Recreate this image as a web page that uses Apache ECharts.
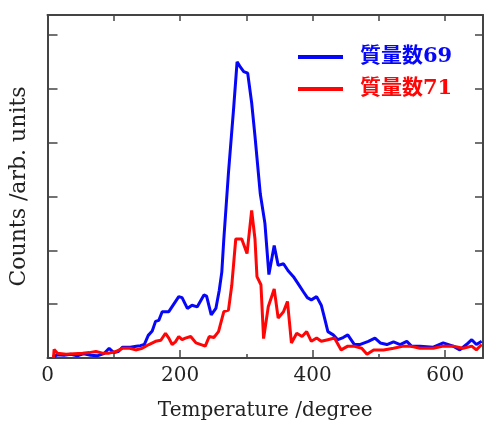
<!DOCTYPE html>
<html><head><meta charset="utf-8">
<script src="https://cdn.jsdelivr.net/npm/echarts@6/dist/echarts.min.js"></script>
<style>html,body{margin:0;padding:0;background:#fff}#c{width:486px;height:426px}</style>
</head><body><div id="c"></div>
<script>
const seriesNames = ['質量数69', '質量数71'];
const blueX = [8,15,25,35,45,55,65,75,85,93,100,107,113,125,134,140,146,152,158,163,168,173,183,191,198,203,211,218,226,236,240,247,254,259,263,266,273,281,286,290,296,302,308,313,321,328,334,342,348,356,363,371,378,386,392,398,406,413,418,423,431,438,446,453,463,471,484,494,502,512,522,532,542,549,562,582,597,612,622,632,640,647,655];
const blueY = [0.02,0.06,0.05,0.07,0.04,0.08,0.05,0.04,0.08,0.18,0.1,0.12,0.2,0.2,0.22,0.23,0.25,0.42,0.5,0.68,0.7,0.86,0.86,1.01,1.14,1.12,0.92,0.98,0.95,1.17,1.15,0.80,0.92,1.25,1.6,2.21,3.44,4.67,5.5,5.42,5.32,5.29,4.74,4.12,3.05,2.5,1.55,2.09,1.72,1.75,1.62,1.51,1.38,1.23,1.12,1.08,1.14,0.98,0.74,0.49,0.43,0.34,0.38,0.43,0.25,0.25,0.31,0.37,0.28,0.25,0.30,0.25,0.31,0.22,0.22,0.2,0.28,0.22,0.15,0.25,0.34,0.25,0.31];
const redX = [9,10,15,28,40,53,63,73,83,93,103,113,124,133,143,153,163,171,178,183,188,193,198,203,208,216,224,238,244,251,258,266,273,278,284,293,301,308,313,316,322,326,333,342,348,356,362,368,376,384,391,398,406,413,423,433,443,453,462,474,482,492,507,522,537,547,562,582,597,612,627,640,647,655];
const redY = [0,0.16,0.09,0.07,0.08,0.09,0.1,0.12,0.09,0.09,0.12,0.18,0.18,0.15,0.18,0.25,0.31,0.33,0.46,0.37,0.25,0.3,0.40,0.34,0.37,0.40,0.28,0.22,0.40,0.38,0.49,0.86,0.89,1.35,2.21,2.21,1.94,2.74,2.21,1.51,1.36,0.36,0.95,1.28,0.74,0.86,1.05,0.28,0.46,0.40,0.49,0.31,0.37,0.31,0.34,0.37,0.15,0.22,0.22,0.18,0.07,0.15,0.15,0.18,0.22,0.22,0.18,0.18,0.22,0.22,0.18,0.22,0.15,0.25];
const xTickLabels = [0, 200, 400, 600];

const BLUE = '#0606f8', RED = '#ff0606';
const FONT = 'DejaVu Serif';
const axisLine = {show: true, onZero: false, lineStyle: {color: '#444', width: 2}};
const tickStyle = {color: '#444', width: 1.5};
const chart = echarts.init(document.getElementById('c'));
chart.setOption({
  animation: false,
  grid: {left: 47.5, top: 15, right: 1.5, bottom: 66},
  legend: {
    orient: 'vertical', left: 298, top: 46, padding: 0, itemWidth: 45, itemHeight: 4, itemGap: 10,
    icon: 'rect',
    textStyle: {fontFamily: FONT + ', "Noto Sans CJK JP"', fontWeight: 'bold', fontSize: 21, lineHeight: 22, padding: [0, 0, 0, 12]},
    data: [
      {name: seriesNames[0], textStyle: {color: BLUE}},
      {name: seriesNames[1], textStyle: {color: RED}}
    ]
  },
  xAxis: [{
    type: 'value', min: 0, max: 657, interval: 200, position: 'bottom',
    name: 'Temperature /degree', nameLocation: 'middle', nameGap: 43,
    nameTextStyle: {fontFamily: FONT, fontSize: 20, color: '#222'},
    axisLine: axisLine, splitLine: {show: false},
    axisTick: {inside: true, length: 8, lineStyle: tickStyle},
    minorTick: {show: true, splitNumber: 2, length: 4, lineStyle: tickStyle},
    axisLabel: {margin: 8, fontFamily: FONT, fontSize: 20, color: '#222',
      formatter: v => xTickLabels.includes(v) ? String(v) : ''}
  }, {
    type: 'value', min: 0, max: 657, interval: 100, position: 'top',
    axisLine: axisLine, splitLine: {show: false},
    axisTick: {inside: true, length: 6, lineStyle: tickStyle},
    axisLabel: {show: false}
  }],
  yAxis: [{
    type: 'value', min: 0, max: 6.37, interval: 1, position: 'left',
    name: 'Counts /arb. units', nameLocation: 'middle', nameGap: 17,
    nameTextStyle: {fontFamily: FONT, fontSize: 22, color: '#222'},
    axisLine: axisLine, splitLine: {show: false},
    axisTick: {inside: true, length: 10, lineStyle: tickStyle},
    axisLabel: {show: false}
  }, {
    type: 'value', min: 0, max: 6.37, interval: 1, position: 'right',
    axisLine: axisLine, splitLine: {show: false},
    axisTick: {inside: true, length: 8, lineStyle: tickStyle},
    axisLabel: {show: false}
  }],
  series: [{
    name: seriesNames[0], type: 'line', xAxisIndex: 0, yAxisIndex: 0,
    data: blueX.map((x, i) => [x, blueY[i]]), showSymbol: false, symbol: 'none',
    color: BLUE, lineStyle: {color: BLUE, width: 3}
  }, {
    name: seriesNames[1], type: 'line', xAxisIndex: 0, yAxisIndex: 0,
    data: redX.map((x, i) => [x, redY[i]]), showSymbol: false, symbol: 'none',
    color: RED, lineStyle: {color: RED, width: 3}
  }]
});
</script></body></html>
